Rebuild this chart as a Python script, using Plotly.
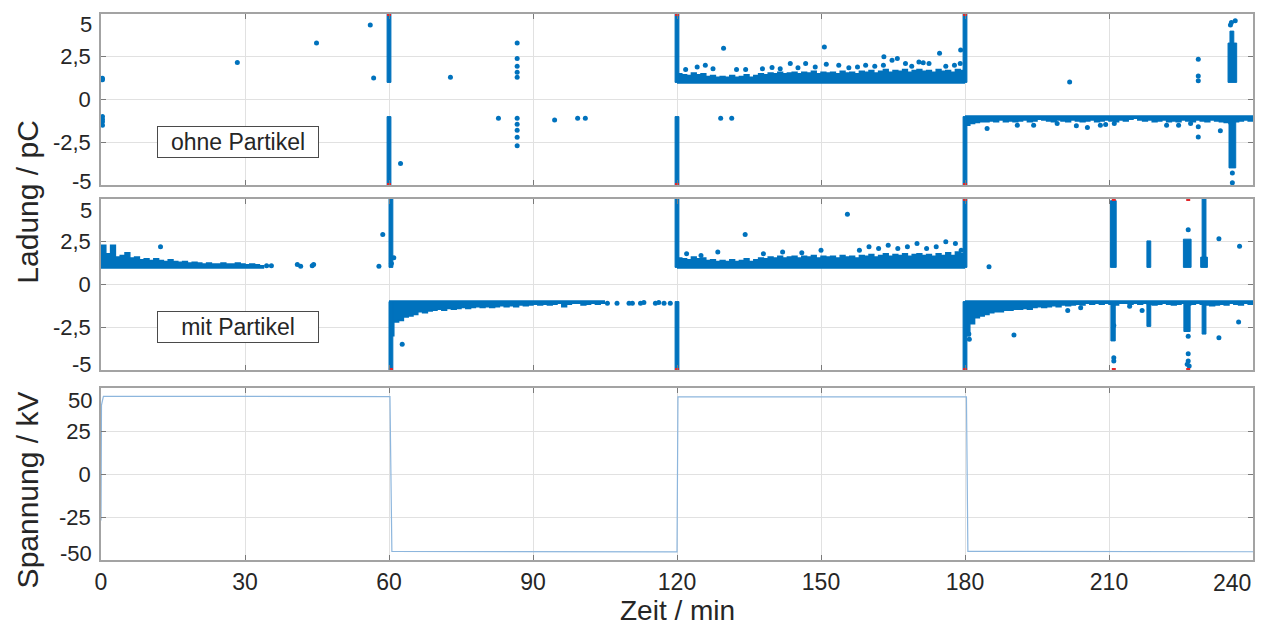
import plotly.graph_objects as go

BLUE = "#0072BD"
RED = "#E3262A"
VOLT = "#8DB6DD"
FONT = "Liberation Sans, Arial, sans-serif"
TXT = "#262626"

# ---------------- axes ----------------
x_ticks = [0, 30, 60, 90, 120, 150, 180, 210, 240]
x_labels = ["0", "30", "60", "90", "120", "150", "180", "210", "240"]
q_ticks = [-5, -2.5, 0, 2.5, 5]
q_labels = ["-5", "-2,5", "0", "2,5", "5"]
u_ticks = [-50, -25, 0, 25, 50]
u_labels = ["-50", "-25", "0", "25", "50"]

# ---------------- ohne Partikel (charge, pC) ----------------
# dense pulse columns: time span [t0, t1] and charge span [lo, hi]
o_col_t0 = [59.6, 59.6, 119.6, 119.6, 179.6, 179.6, 234.8, 235.2, 235.0]
o_col_t1 = [60.4, 60.4, 120.4, 120.4, 180.4, 180.4, 236.6, 236.0, 236.4]
o_col_lo = [1.0, -5.0, 1.0, -5.0, 1.0, -5.0, 1.0, 3.2, -4.0]
o_col_hi = [5.0, -1.0, 5.0, -1.0, 5.0, -1.0, 3.3, 4.0, -1.0]

# dense positive band 120..180 min (upper envelope per minute, lower bound 1 pC)
o_pos_t = list(range(120, 181))
o_pos_top = [1.5, 1.45, 1.4, 1.55, 1.45, 1.5, 1.35, 1.4, 1.3, 1.35,
             1.3, 1.4, 1.3, 1.35, 1.45, 1.3, 1.4, 1.5, 1.45, 1.55,
             1.5, 1.6, 1.5, 1.55, 1.6, 1.5, 1.6, 1.55, 1.65, 1.5,
             1.6, 1.55, 1.6, 1.5, 1.65, 1.55, 1.6, 1.5, 1.65, 1.6,
             1.7, 1.55, 1.65, 1.75, 1.6, 1.7, 1.65, 1.75, 1.6, 1.7,
             1.75, 1.65, 1.7, 1.6, 1.75, 1.65, 1.7, 1.6, 1.75, 1.7, 1.7]

# dense negative band 180..240 min (lower envelope per minute, upper bound -1 pC)
o_neg_t = list(range(180, 241))
o_neg_bot = [-1.5, -1.4, -1.35, -1.3, -1.3, -1.25, -1.3, -1.2, -1.3, -1.25,
             -1.3, -1.25, -1.2, -1.3, -1.25, -1.15, -1.2, -1.25, -1.3, -1.2,
             -1.25, -1.3, -1.2, -1.25, -1.3, -1.25, -1.2, -1.3, -1.25, -1.2,
             -1.25, -1.3, -1.2, -1.25, -1.15, -1.1, -1.2, -1.25, -1.2, -1.3,
             -1.25, -1.2, -1.3, -1.25, -1.3, -1.2, -1.25, -1.3, -1.2, -1.25,
             -1.3, -1.2, -1.25, -1.3, -1.35, -1.4, -1.3, -1.25, -1.2, -1.25, -1.2]

# single discharge events
o_pt_t = [0.3, 0.3, 0.3, 0.3, 0.3, 0.3, 28.4, 44.9, 56.1, 56.8, 62.4, 72.8,
          82.8, 86.7, 86.7, 86.7, 86.7, 86.7, 86.7, 86.7, 86.7, 86.7, 86.7,
          94.5, 99.3, 100.9, 129.1, 131.4,
          121.8, 124.2, 125.9, 127.5, 129.7, 132.4, 134.3, 137.8, 139.8, 141.5,
          143.6, 145.2, 146.8, 148.8, 150.7, 151.1, 153.7, 155.8, 157.6, 159.3,
          161.2, 163.0, 163.1, 164.8, 165.9, 167.6, 168.9, 170.4, 171.3, 172.5,
          174.7, 176.0, 177.8, 179.1, 179.0,
          184.6, 190.9, 194.3, 199.2, 201.8, 203.2, 205.5, 208.2, 209.3, 211.1,
          222.0, 224.5, 227.0, 228.6, 228.6, 228.6, 228.6, 228.6, 233.2,
          235.3, 235.5, 236.3, 235.7, 235.7, 235.6]
o_pt_q = [1.15, 1.25, -1.0, -1.15, -1.3, -1.5, 2.16, 3.3, 4.35, 1.26, -3.74, 1.3,
          -1.1, 3.3, 2.4, 1.95, 1.6, 1.3, -1.1, -1.45, -1.8, -2.2, -2.7,
          -1.2, -1.1, -1.1, -1.1, -1.1,
          1.75, 1.9, 2.0, 1.8, 3.0, 1.75, 1.75, 1.8, 1.87, 1.8,
          2.1, 1.85, 2.1, 1.9, 3.07, 2.06, 2.0, 1.85, 1.9, 2.0,
          1.95, 2.0, 2.5, 2.3, 2.4, 2.1, 1.95, 2.2, 2.15, 2.1,
          2.7, 1.95, 2.0, 2.9, 2.1,
          -1.7, -1.5, -1.5, -1.4, 1.03, -1.54, -1.64, -1.5, -1.46, -1.4,
          -1.5, -1.5, -1.4, 2.36, 1.38, 1.09, -1.6, -2.19, -1.83,
          4.35, 4.5, 4.6, -4.3, -4.87, -3.6]

# events beyond the display range
o_over_t = [60, 60, 120, 120, 180, 180]
o_over_q = [5, -5, 5, -5, 5, -5]

# ---------------- mit Partikel (charge, pC) ----------------
m_col_t0 = [60.0, 60.0, 119.6, 119.6, 179.6, 179.6, 210.3, 210.4, 217.9, 217.9,
            225.5, 225.6, 229.4, 229.1, 229.4]
m_col_t1 = [60.8, 60.8, 120.4, 120.4, 180.4, 180.4, 211.5, 211.3, 218.7, 218.7,
            227.1, 226.9, 230.2, 230.5, 230.2]
m_col_lo = [1.0, -5.0, 1.0, -5.0, 1.0, -5.0, 1.0, -3.3, 1.0, -2.45,
            1.0, -2.75, 1.6, 1.0, -2.9]
m_col_hi = [5.0, -1.0, 5.0, -1.0, 5.0, -1.0, 4.9, -1.0, 2.55, -1.0,
            2.65, -1.0, 5.0, 1.6, -1.0]

# positive band 0..34 min
m_pos1_t = list(range(0, 35))
m_pos1_top = [2.3, 1.8, 2.3, 1.6, 1.7, 1.85, 1.55, 1.6, 1.45, 1.5,
              1.4, 1.5, 1.4, 1.35, 1.45, 1.35, 1.3, 1.35, 1.25, 1.3,
              1.25, 1.2, 1.25, 1.2, 1.2, 1.25, 1.2, 1.2, 1.25, 1.2,
              1.15, 1.2, 1.15, 1.1, 1.1]

# negative band 60..105 min
m_neg1_t = list(range(60, 106))
m_neg1_bot = [-3.0, -2.2, -2.1, -1.9, -1.85, -1.75, -1.6, -1.65, -1.55, -1.5,
              -1.45, -1.5, -1.4, -1.45, -1.4, -1.35, -1.4, -1.35, -1.3, -1.35,
              -1.3, -1.35, -1.3, -1.25, -1.3, -1.25, -1.3, -1.2, -1.25, -1.2,
              -1.15, -1.2, -1.15, -1.2, -1.15, -1.1, -1.3, -1.15, -1.1, -1.1,
              -1.2, -1.15, -1.1, -1.15, -1.1, -1.1]

# positive band 120..180 min
m_pos2_t = list(range(120, 181))
m_pos2_top = [1.55, 1.5, 1.45, 1.6, 1.5, 1.55, 1.4, 1.45, 1.35, 1.4,
              1.35, 1.45, 1.35, 1.4, 1.5, 1.35, 1.45, 1.55, 1.5, 1.6,
              1.55, 1.65, 1.55, 1.6, 1.65, 1.55, 1.65, 1.6, 1.7, 1.55,
              1.65, 1.6, 1.65, 1.55, 1.7, 1.6, 1.65, 1.55, 1.7, 1.65,
              1.75, 1.6, 1.7, 1.8, 1.65, 1.75, 1.7, 1.8, 1.65, 1.75,
              1.8, 1.7, 1.75, 1.65, 1.8, 1.7, 1.85, 1.7, 1.9, 1.8, 1.8]

# negative band 180..240 min
m_neg2_t = list(range(180, 241))
m_neg2_bot = [-3.0, -2.3, -1.95, -1.85, -1.75, -1.65, -1.6, -1.6, -1.5, -1.5,
              -1.45, -1.45, -1.4, -1.45, -1.35, -1.3, -1.35, -1.3, -1.25, -1.3,
              -1.2, -1.25, -1.2, -1.15, -1.2, -1.1, -1.15, -1.1, -1.15, -1.1,
              -1.15, -1.2, -1.1, -1.1, -1.15, -1.1, -1.15, -1.1, -1.15, -1.2,
              -1.15, -1.1, -1.15, -1.2, -1.15, -1.1, -1.2, -1.15, -1.1, -1.15,
              -1.2, -1.25, -1.2, -1.15, -1.2, -1.1, -1.15, -1.2, -1.1, -1.15, -1.2]

m_pt_t = [12.4, 34.5, 35.5, 40.9, 41.6, 44.0, 44.3, 57.9, 58.7, 60.5, 61.0,
          62.75, 105.5, 107.5, 110.0, 110.7, 112.4, 113.1, 115.5, 116.2, 117.3, 118.6,
          122.0, 125.0, 128.5, 134.2, 138.0, 142.0, 146.0, 150.0, 155.5, 158.0,
          160.0, 162.0, 164.0, 166.0, 168.0, 170.0, 172.0, 174.0, 176.0, 178.0, 179.2,
          180.8, 180.9, 185.0, 190.2, 201.4, 204.1, 211.0, 211.0, 211.0, 214.3, 216.9,
          226.5, 226.5, 226.5, 226.5, 226.3, 226.7, 232.9, 232.9, 237.2, 237.0]
m_pt_q = [2.2, 1.1, 1.1, 1.17, 1.07, 1.1, 1.17, 1.07, 2.92, 1.23, 1.56,
          -3.5, -1.1, -1.1, -1.1, -1.1, -1.1, -1.05, -1.1, -1.05, -1.1, -1.1,
          1.8, 1.7, 1.9, 2.92, 1.8, 1.9, 1.85, 2.0, 4.1, 2.0,
          2.2, 2.1, 2.3, 2.1, 2.2, 2.4, 2.1, 2.2, 2.5, 2.4, 2.0,
          -2.9, -3.2, 1.03, -2.96, -1.52, -1.36, -4.28, -4.48, -2.4, -1.27, -1.52,
          3.2, -3.02, -4.05, -4.48, -4.67, -4.77, 2.67, -3.12, 2.24, -2.2]

m_over_t = [60.4, 120, 180, 180, 211, 211, 226.5, 226.5]
m_over_q = [-5, -5, 5, -5, 5, -5, 5, -5]

# ---------------- Spannung (kV) ----------------
volt_t = [0, 0.1, 0.5, 60.2, 60.6, 120.0, 120.2, 180.3, 180.6, 240]
volt_u = [-27, 40, 45.2, 45.0, -45.0, -45.3, 44.8, 44.8, -45.0, -45.2]

fig = go.Figure()


def add_columns(t0, t1, lo, hi, xa, ya):
    xs, ys = [], []
    for a, b, l, h in zip(t0, t1, lo, hi):
        xs += [a, b, b, a, a, None]
        ys += [l, l, h, h, l, None]
    fig.add_trace(go.Scatter(x=xs, y=ys, mode="lines", fill="toself",
                             fillcolor=BLUE, line=dict(color=BLUE, width=1),
                             xaxis=xa, yaxis=ya, hoverinfo="skip"))


def add_band(t, edge, base, xa, ya):
    fig.add_trace(go.Scatter(x=[t[0], t[-1]], y=[base, base], mode="lines",
                             line=dict(color=BLUE, width=1.5),
                             xaxis=xa, yaxis=ya, hoverinfo="skip"))
    fig.add_trace(go.Scatter(x=t, y=edge, mode="lines", line_shape="hv",
                             fill="tonexty", fillcolor=BLUE,
                             line=dict(color=BLUE, width=1.5),
                             xaxis=xa, yaxis=ya, hoverinfo="skip"))


def add_points(t, q, xa, ya, color=BLUE, symbol="circle", size=5):
    fig.add_trace(go.Scatter(x=t, y=q, mode="markers",
                             marker=dict(color=color, size=size, symbol=symbol,
                                         line=dict(width=0)),
                             xaxis=xa, yaxis=ya,
                             cliponaxis=(color == BLUE)))


# panel 1: ohne Partikel
add_band(o_pos_t, o_pos_top, 0.97, "x", "y")
add_band(o_neg_t, o_neg_bot, -0.97, "x", "y")
add_columns(o_col_t0, o_col_t1, o_col_lo, o_col_hi, "x", "y")
add_points(o_pt_t, o_pt_q, "x", "y")
add_points(o_over_t, o_over_q, "x", "y", color=RED, symbol="square", size=4)

# panel 2: mit Partikel
add_band(m_pos1_t, m_pos1_top, 0.97, "x2", "y2")
add_band(m_neg1_t, m_neg1_bot, -0.97, "x2", "y2")
add_band(m_pos2_t, m_pos2_top, 0.97, "x2", "y2")
add_band(m_neg2_t, m_neg2_bot, -0.97, "x2", "y2")
add_columns(m_col_t0, m_col_t1, m_col_lo, m_col_hi, "x2", "y2")
add_points(m_pt_t, m_pt_q, "x2", "y2")
add_points(m_over_t, m_over_q, "x2", "y2", color=RED, symbol="square", size=4)

# panel 3: voltage
fig.add_trace(go.Scatter(x=volt_t, y=volt_u, mode="lines",
                         line=dict(color=VOLT, width=1.2),
                         xaxis="x3", yaxis="y3"))

grid = "#E1E1E1"
border = "#A3A3A3"

xcommon = dict(range=[0, 240], tickvals=x_ticks, showgrid=True, gridcolor=grid,
               gridwidth=1, zeroline=False, showline=True, linecolor=border,
               linewidth=1.5, mirror="ticks", ticks="inside", ticklen=5,
               tickcolor="#7a7a7a", tickwidth=1, domain=[0, 1])
ycommon = dict(showgrid=True, gridcolor=grid, gridwidth=1, zeroline=False,
               showline=True, linecolor=border, linewidth=1.5, mirror="ticks",
               ticks="inside", ticklen=5, tickcolor="#7a7a7a", tickwidth=1,
               tickfont=dict(family=FONT, size=22, color=TXT),
               ticklabelstandoff=4)

q_text = ["", q_labels[1], q_labels[2], q_labels[3], ""]
u_text = ["", u_labels[1], u_labels[2], u_labels[3], ""]

fig.update_layout(
    width=1268, height=626,
    margin=dict(l=101, r=15, t=14, b=66),
    paper_bgcolor="white", plot_bgcolor="white",
    showlegend=False,
    xaxis=dict(xcommon, anchor="y", showticklabels=False),
    xaxis2=dict(xcommon, anchor="y2", matches="x", showticklabels=False),
    xaxis3=dict(xcommon, anchor="y3", matches="x", showticklabels=True,
                ticktext=x_labels[:-1] + [""],
                tickfont=dict(family=FONT, size=23, color=TXT),
                ticklabelstandoff=1),
    yaxis=dict(ycommon, anchor="x", domain=[0.6868, 1.0], range=[-5, 5],
               tickvals=q_ticks, ticktext=q_text),
    yaxis2=dict(ycommon, anchor="x2", domain=[0.348, 0.6612], range=[-5, 5],
                tickvals=q_ticks, ticktext=q_text),
    yaxis3=dict(ycommon, anchor="x3", domain=[0.0, 0.315], range=[-50, 50],
                tickvals=u_ticks, ticktext=u_text),
)

ann = []
# end-of-axis tick labels, set slightly inside the axis box
edge_labels = [("y domain", 0.936, q_labels[4]), ("y domain", 0.02, q_labels[0]),
               ("y2 domain", 0.932, q_labels[4]), ("y2 domain", 0.03, q_labels[0]),
               ("y3 domain", 0.93, u_labels[4]), ("y3 domain", 0.04, u_labels[0])]
for yref, yy, txt in edge_labels:
    ann.append(dict(xref="paper", x=0, xanchor="right", xshift=-7, yref=yref,
                    y=yy, yanchor="middle", text=txt, showarrow=False,
                    font=dict(family=FONT, size=22, color=TXT)))
ann.append(dict(xref="x3", x=240, xanchor="right", yref="paper", y=0,
                yanchor="top", yshift=-8, text=x_labels[-1], showarrow=False,
                font=dict(family=FONT, size=23, color=TXT)))

# panel captions
for xr, yr, txt in [("x", "y", "ohne Partikel"), ("x2", "y2", "mit Partikel")]:
    ann.append(dict(xref=xr, yref=yr, x=28.6, y=-2.5, text=txt, showarrow=False,
                    width=156, height=26, borderpad=2, borderwidth=1,
                    bordercolor="#4a4a4a", bgcolor="white",
                    font=dict(family=FONT, size=23, color=TXT)))

# axis titles
ann.append(dict(xref="paper", yref="paper", x=-0.064, y=0.655,
                xanchor="center", yanchor="middle",
                text="Ladung / pC", textangle=-90, showarrow=False,
                font=dict(family=FONT, size=30, color=TXT)))
ann.append(dict(xref="paper", yref="paper", x=-0.064, y=0.128,
                xanchor="center", yanchor="middle",
                text="Spannung / kV", textangle=-90, showarrow=False,
                font=dict(family=FONT, size=30, color=TXT)))
ann.append(dict(xref="paper", yref="paper", x=0.5, y=-0.093,
                xanchor="center", yanchor="middle",
                text="Zeit / min", showarrow=False,
                font=dict(family=FONT, size=28, color=TXT)))

fig.update_layout(annotations=ann)
fig.write_html("out.html")
